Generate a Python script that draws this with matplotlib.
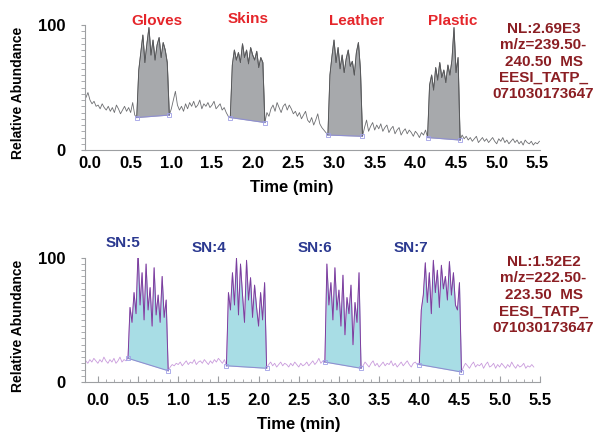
import numpy as np
import matplotlib
matplotlib.use('Agg')
import matplotlib.pyplot as plt

plt.rcParams['font.family'] = ['Liberation Sans', 'DejaVu Sans']
plt.rcParams['font.weight'] = 'bold'

# scan times (min), one scan every 0.025 min
top_time = np.round(np.arange(224) * 0.025 - 0.05, 3)
top_signal = [
    42, 46, 40, 37, 39, 35, 36, 33, 37, 34,
    32, 35, 31, 34, 30, 36, 33, 29, 32, 35,
    31, 34, 30, 38, 28,
    26, 64, 78, 92, 70, 85, 98, 76, 88, 72, 84, 90, 74, 86, 80, 70, 28,
    33, 40, 47, 36, 32, 35, 31, 37,
    33, 38, 35, 39, 34, 36, 40, 33, 37, 35,
    38, 34, 36, 39, 33, 35, 37, 32, 34, 30, 27,
    26, 68, 80, 72, 78, 70, 85, 74, 80, 69, 82, 76, 72, 79, 66, 74, 70, 22,
    30, 27, 33, 36, 31, 38, 34, 30, 35, 37, 32,
    36, 33, 29, 31, 27, 30, 25, 28, 31, 24,
    22, 26, 20, 24, 29, 21, 18, 16, 14,
    12, 60, 75, 88, 70, 82, 65, 76, 62, 73, 80, 67, 71, 60, 78, 86, 64, 11,
    18, 24, 15, 19, 22, 16, 20, 17, 21, 15, 18, 20, 14,
    17, 19, 13, 16, 18, 12, 15, 17, 13, 16,
    14, 11, 15, 13, 10, 14, 12, 16,
    10, 52, 60, 48, 66, 56, 70, 58, 64, 54, 68, 60, 72, 98, 62, 74, 8,
    12, 9, 11, 8, 10, 7, 9, 11, 6, 8, 10, 7, 9, 6, 8, 10, 7, 5, 9, 7,
    10, 6, 8, 5, 7, 9, 6, 8, 5, 7, 4, 8, 6, 5, 7, 4, 6, 5, 7,
]
top_peak_start = [0.575, 1.725, 2.925, 4.15]
top_peak_end = [0.975, 2.15, 3.35, 4.55]
top_names = ['Gloves', 'Skins', 'Leather', 'Plastic']
top_name_pos = [(0.82, 103), (1.94, 105), (3.28, 103), (4.46, 103)]
top_info = 'NL:2.69E3\nm/z=239.50-\n240.50  MS\nEESI_TATP_\n071030173647'

bottom_time = np.round(np.arange(224) * 0.025 - 0.15, 3)
bottom_signal = [
    17, 15, 18, 16, 19, 17, 15, 18, 16, 20, 17, 15, 18, 16, 19, 15, 17, 20, 16, 18, 17,
    19, 60, 48, 72, 55, 106, 62, 88, 50, 95, 58, 76, 45, 92, 54, 70, 48, 85, 52, 66, 9,
    12, 14, 13, 15, 14, 16, 13, 15, 17, 14, 16, 15, 18, 14, 16, 17, 15, 18, 16, 14,
    17, 15, 18, 16, 19, 17, 15, 18,
    13, 72, 58, 88, 62, 100, 54, 95, 70, 48, 98, 66, 84, 52, 78, 60, 45, 72, 50, 80, 11,
    14, 16, 13, 15, 12, 14, 16, 13, 15, 14, 12, 15, 13, 16, 14, 12, 15, 13, 14, 16,
    13, 15, 17, 14, 16, 19, 15, 17,
    16, 95, 62, 80, 50, 92, 58, 74, 45, 86, 38, 68, 55, 78, 30, 64, 48, 88, 11,
    13, 16, 14, 12, 15, 17, 13, 15, 12, 14, 16, 13, 15, 14, 17, 13, 15, 12, 14, 16,
    13, 15, 17, 14, 12, 15, 16, 14,
    14, 58, 70, 96, 64, 88, 55, 98, 72, 90, 60, 94, 75, 85, 66, 97, 70, 88, 62, 58, 80, 8,
    12, 15, 13, 11, 14, 16, 12, 14, 13, 15, 11, 14, 16, 12, 13, 15, 11, 14, 12, 15,
    13, 11, 14, 12, 16, 13, 11, 14, 12, 13, 15, 11, 13, 12, 14, 12,
]
bottom_peak_start = [0.375, 1.6, 2.825, 4.0]
bottom_peak_end = [0.875, 2.1, 3.275, 4.525]
bottom_names = ['SN:5', 'SN:4', 'SN:6', 'SN:7']
bottom_name_pos = [(0.31, 112), (1.38, 108), (2.70, 108), (3.89, 108)]
bottom_info = 'NL:1.52E2\nm/z=222.50-\n223.50  MS\nEESI_TATP_\n071030173647'

time_ticks = [0.0, 0.5, 1.0, 1.5, 2.0, 2.5, 3.0, 3.5, 4.0, 4.5, 5.0, 5.5]
time_labels = ['0.0', '0.5', '1.0', '1.5', '2.0', '2.5', '3.0', '3.5', '4.0', '4.5', '5.0', '5.5']


def draw_panel(ax, time, signal, starts, ends, line_col, peak_col, fill_col):
    signal = np.array(signal, dtype=float)
    ax.plot(time, signal, color=line_col, lw=0.6)
    for s, e in zip(starts, ends):
        m = (time >= s - 1e-6) & (time <= e + 1e-6)
        t = time[m]
        y = signal[m]
        # integration baseline drawn between the peak ends
        base = np.interp(t, [t[0], t[-1]], [y[0], y[-1]])
        ax.fill_between(t, base, y, color=fill_col, lw=0)
        ax.plot(t, y, color=peak_col, lw=0.7)
        ax.plot([t[0], t[-1]], [y[0], y[-1]], color='#8f8fd0', lw=0.8)
        ax.plot([t[0], t[-1]], [y[0], y[-1]], 's', ms=3.5, mfc='none',
                mec='#a0a0e6', mew=0.6)


fig = plt.figure(figsize=(6, 4.4), dpi=100)
ax1 = fig.add_axes([0.1417, 0.659, 0.758, 0.284])
ax2 = fig.add_axes([0.1417, 0.132, 0.758, 0.282])

draw_panel(ax1, top_time, top_signal, top_peak_start, top_peak_end,
           '#6d6e71', '#58595b', '#a7a9ac')
draw_panel(ax2, bottom_time, bottom_signal, bottom_peak_start, bottom_peak_end,
           '#c99bdc', '#7b3f9e', '#a8dde5')

ax1.set_xlim(-0.061, 5.53)
ax2.set_xlim(-0.16, 5.457)

for ax in (ax1, ax2):
    ax.set_ylim(0, 100)
    ax.spines[['top', 'right']].set_visible(False)
    ax.spines[['left', 'bottom']].set_color('#9d9fa2')
    ax.set_yticks([0, 100])
    ax.set_yticklabels(['0', '100'], fontsize=12, fontweight='bold')
    ax.set_yticks(np.arange(0, 101, 5), minor=True)
    ax.tick_params(axis='y', which='both', direction='out', length=3,
                   color='#9d9fa2', pad=11)
    ax.set_xticks(time_ticks)
    ax.set_xticklabels(time_labels, fontsize=12, fontweight='bold')

ax1.text(0.455, -0.30, 'Time (min)', transform=ax1.transAxes,
         ha='center', va='center', fontsize=12, fontweight='bold')
ax2.text(0.47, -0.345, 'Time (min)', transform=ax2.transAxes,
         ha='center', va='center', fontsize=12, fontweight='bold')

ax1.tick_params(axis='x', length=0, pad=4)
ax2.set_xticks(np.arange(0, 5.45, 0.1), minor=True)
ax2.tick_params(axis='x', which='major', direction='in', length=4, color='#9d9fa2', pad=8)
ax2.tick_params(axis='x', which='minor', direction='in', length=2.5, color='#9d9fa2')

for name, (x, y) in zip(top_names, top_name_pos):
    ax1.text(x, y, name, color='#e5252a', fontsize=11, fontweight='bold',
             ha='center', va='center', clip_on=False)
for name, (x, y) in zip(bottom_names, bottom_name_pos):
    ax2.text(x, y, name, color='#2b3990', fontsize=11, fontweight='bold',
             ha='center', va='center', clip_on=False)

fig.text(0.906, 0.860, top_info, color='#8b1e23', fontsize=11, fontweight='bold',
         ha='center', va='center', linespacing=1.22)
fig.text(0.906, 0.330, bottom_info, color='#8b1e23', fontsize=11, fontweight='bold',
         ha='center', va='center', linespacing=1.22)

fig.text(0.030, 0.79, 'Relative Abundance', rotation=90, fontsize=10,
         fontweight='bold', ha='center', va='center')
fig.text(0.030, 0.26, 'Relative Abundance', rotation=90, fontsize=10,
         fontweight='bold', ha='center', va='center')

fig.savefig('out.png', dpi=100)
